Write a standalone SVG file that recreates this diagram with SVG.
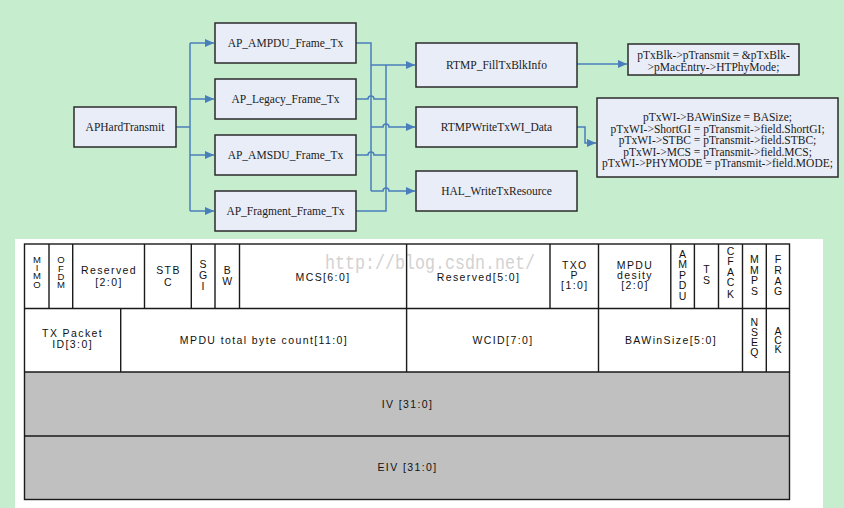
<svg xmlns="http://www.w3.org/2000/svg" width="844" height="508" viewBox="0 0 844 508">
<defs>
<marker id="arr" markerUnits="userSpaceOnUse" markerWidth="10" markerHeight="8" refX="9" refY="4" orient="auto">
<path d="M0,0 L9,4 L0,8 z" fill="#4a7ebb"/>
</marker>
<style>
.box{fill:#e9edf8;stroke:#2b2b2b;stroke-width:1.5}
.bt{font-family:"Liberation Serif","Times New Roman",serif;font-size:11.5px;fill:#1a1a1a;text-anchor:middle}
.ln{fill:none;stroke:#4a7ebb;stroke-width:1.5}
.g{stroke:#1a1a1a;stroke-width:1.4;fill:none}
.t{font-family:"Liberation Sans",Arial,sans-serif;font-size:10.5px;letter-spacing:1.4px;fill:#111;text-anchor:middle}
.v{font-family:"Liberation Sans",Arial,sans-serif;font-size:10.5px;fill:#111;text-anchor:middle}
.v9{font-family:"Liberation Sans",Arial,sans-serif;font-size:9.5px;fill:#111;text-anchor:middle}
</style>
</defs>
<rect x="0" y="0" width="844" height="508" fill="#c7edcf"/>

<g id="connectors">
<path class="ln" d="M176,127 H190" stroke-width="2"/>
<path class="ln" d="M190,43 V211"/>
<path class="ln" d="M190,43 H214" marker-end="url(#arr)"/>
<path class="ln" d="M190,99 H214" marker-end="url(#arr)"/>
<path class="ln" d="M190,155 H214" marker-end="url(#arr)"/>
<path class="ln" d="M190,211 H214" marker-end="url(#arr)"/>
<path class="ln" d="M356,43 H371 V191"/>
<path class="ln" d="M371,65 H415" marker-end="url(#arr)"/>
<path class="ln" d="M371,127 H383 A3,3 0 0 1 389,127 H415" marker-end="url(#arr)"/>
<path class="ln" d="M371,191 H383 A3,3 0 0 1 389,191 H415" marker-end="url(#arr)"/>
<path class="ln" d="M356,99 H368 A3,3 0 0 1 374,99 H386"/>
<path class="ln" d="M356,155 H368 A3,3 0 0 1 374,155 H386"/>
<path class="ln" d="M356,211 H386 V65"/>
<path class="ln" d="M577,64 H627" marker-end="url(#arr)"/>
<path class="ln" d="M577,127 H585 V143 H596" marker-end="url(#arr)"/>
</g>

<g id="n-aphard"><rect class="box" x="74" y="107" width="102" height="40"/><text class="bt" x="125" y="131">APHardTransmit</text></g>
<g id="n-ampdu"><rect class="box" x="215" y="23" width="141" height="40"/><text class="bt" x="285.5" y="47">AP_AMPDU_Frame_Tx</text></g>
<g id="n-legacy"><rect class="box" x="215" y="79" width="141" height="40"/><text class="bt" x="285.5" y="103">AP_Legacy_Frame_Tx</text></g>
<g id="n-amsdu"><rect class="box" x="215" y="135" width="141" height="40"/><text class="bt" x="285.5" y="159">AP_AMSDU_Frame_Tx</text></g>
<g id="n-frag"><rect class="box" x="215" y="191" width="141" height="40"/><text class="bt" x="285.5" y="215">AP_Fragment_Frame_Tx</text></g>
<g id="n-fill"><rect class="box" x="416" y="43" width="161" height="44"/><text class="bt" x="496.5" y="68.5">RTMP_FillTxBlkInfo</text></g>
<g id="n-write"><rect class="box" x="416" y="107" width="161" height="40"/><text class="bt" x="496.5" y="131">RTMPWriteTxWI_Data</text></g>
<g id="n-hal"><rect class="box" x="416" y="171" width="161" height="40"/><text class="bt" x="496.5" y="195">HAL_WriteTxResource</text></g>
<g id="n-txblk"><rect class="box" x="628" y="44" width="171" height="31"/>
<text class="bt" x="713.5" y="59">pTxBlk-&gt;pTransmit = &amp;pTxBlk-</text>
<text class="bt" x="713.5" y="71">&gt;pMacEntry-&gt;HTPhyMode;</text></g>
<g id="n-txwi"><rect class="box" x="597" y="98" width="241" height="79"/>
<text class="bt" x="717.5" y="121">pTxWI-&gt;BAWinSize = BASize;</text>
<text class="bt" x="717.5" y="132.5">pTxWI-&gt;ShortGI = pTransmit-&gt;field.ShortGI;</text>
<text class="bt" x="717.5" y="144">pTxWI-&gt;STBC = pTransmit-&gt;field.STBC;</text>
<text class="bt" x="717.5" y="155.5">pTxWI-&gt;MCS = pTransmit-&gt;field.MCS;</text>
<text class="bt" x="717.5" y="167">pTxWI-&gt;PHYMODE = pTransmit-&gt;field.MODE;</text></g>

<rect x="15" y="239" width="808" height="269" fill="#ffffff"/>
<rect x="24.5" y="372" width="765" height="127.5" fill="#c0c0c0"/>
<text x="325" y="269" font-family="Liberation Mono,Courier New,monospace" font-size="20" fill="#d2d2d2" textLength="210" lengthAdjust="spacingAndGlyphs">http://blog.csdn.net/</text>
<g id="table">
<rect class="g" x="24.5" y="244" width="765" height="255.5"/>
<path class="g" d="M24.5,308.5 H789.5 M24.5,372 H789.5 M24.5,436 H789.5"/>
<path class="g" d="M49,244 V308.5 M72.7,244 V308.5 M144.5,244 V308.5 M191.3,244 V308.5 M215,244 V308.5 M239.5,244 V308.5 M550,244 V308.5 M670.8,244 V308.5 M694.4,244 V308.5 M718.5,244 V308.5"/>
<path class="g" d="M406.6,244 V372 M598.5,244 V372 M742.5,244 V372 M766.3,244 V372 M120.7,308.5 V372"/>
</g>
<g id="fields">
<text class="v9" x="37" y="262.7">M</text><text class="v9" x="37" y="271">I</text><text class="v9" x="37" y="279.3">M</text><text class="v9" x="37" y="287.7">O</text>
<text class="v9" x="61" y="263.3">O</text><text class="v9" x="61" y="271.7">F</text><text class="v9" x="61" y="280">D</text><text class="v9" x="61" y="288.3">M</text>
<text class="t" x="109" y="274">Reserved</text><text class="t" x="109" y="286">[2:0]</text>
<text class="t" x="168.5" y="274">STB</text><text class="t" x="168.5" y="286">C</text>
<text class="v" x="203" y="268.3">S</text><text class="v" x="203" y="279">G</text><text class="v" x="203" y="290">I</text>
<text class="v" x="227.3" y="273.5">B</text><text class="v" x="227.3" y="285">W</text>
<text class="t" x="323" y="280.7">MCS[6:0]</text>
<text class="t" x="478.5" y="280.7">Reserved[5:0]</text>
<text class="t" x="574.8" y="269">TXO</text><text class="t" x="574.8" y="278.5">P</text><text class="t" x="574.8" y="289">[1:0]</text>
<text class="t" x="635" y="269">MPDU</text><text class="t" x="635" y="279">desity</text><text class="t" x="635" y="289">[2:0]</text>
<text class="v" x="682.6" y="257.7">A</text><text class="v" x="682.6" y="268.3">M</text><text class="v" x="682.6" y="278.7">P</text><text class="v" x="682.6" y="289.3">D</text><text class="v" x="682.6" y="300">U</text>
<text class="v" x="706.5" y="272.7">T</text><text class="v" x="706.5" y="284.3">S</text>
<text class="v" x="730.5" y="254.5">C</text><text class="v" x="730.5" y="265">F</text><text class="v" x="730.5" y="275.5">A</text><text class="v" x="730.5" y="286">C</text><text class="v" x="730.5" y="298">K</text>
<text class="v" x="754.4" y="263.3">M</text><text class="v" x="754.4" y="273.5">M</text><text class="v" x="754.4" y="284.3">P</text><text class="v" x="754.4" y="295">S</text>
<text class="v" x="778" y="263.3">F</text><text class="v" x="778" y="273.5">R</text><text class="v" x="778" y="285">A</text><text class="v" x="778" y="295.3">G</text>
<text class="t" x="72.6" y="337.3">TX Packet</text><text class="t" x="72.6" y="348.3">ID[3:0]</text>
<text class="t" x="264" y="344">MPDU total byte count[11:0]</text>
<text class="t" x="503" y="344.3">WCID[7:0]</text>
<text class="t" x="671" y="344.3">BAWinSize[5:0]</text>
<text class="v" x="754.4" y="326">N</text><text class="v" x="754.4" y="336">S</text><text class="v" x="754.4" y="346">E</text><text class="v" x="754.4" y="356">Q</text>
<text class="v" x="778" y="335">A</text><text class="v" x="778" y="344.3">C</text><text class="v" x="778" y="353.3">K</text>
<text class="t" x="407.5" y="408">IV [31:0]</text>
<text class="t" x="407.5" y="471">EIV [31:0]</text>
</g>
</svg>
